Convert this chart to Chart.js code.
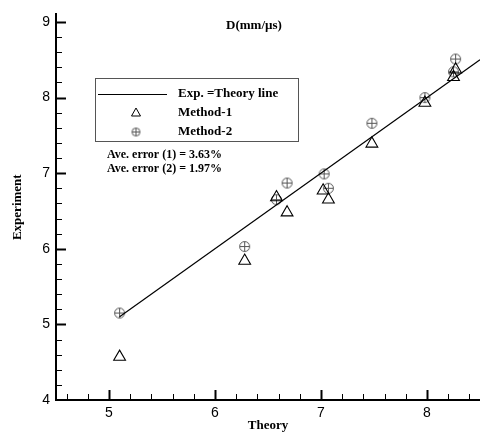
<!DOCTYPE html>
<html>
<head>
<meta charset="utf-8">
<script src="https://cdn.jsdelivr.net/npm/chart.js@4/dist/chart.umd.min.js"></script>
<style>
  html, body { margin: 0; padding: 0; background: #fff; }
  #wrap { position: relative; width: 480px; height: 433px; }
</style>
</head>
<body>
<div id="wrap"><canvas id="chart-scatter"></canvas></div>
<script>
/* data */
var theory1 = [5.1, 6.28, 6.58, 6.68, 7.02, 7.07, 7.48, 7.98, 8.25, 8.27];
var exp1    = [4.57, 5.84, 6.68, 6.48, 6.77, 6.65, 7.39, 7.93, 8.27, 8.37];
var theory2 = [5.1, 6.28, 6.58, 6.68, 7.03, 7.07, 7.48, 7.98, 8.25, 8.27];
var exp2    = [5.15, 6.03, 6.65, 6.87, 6.99, 6.80, 7.66, 8.00, 8.34, 8.51];
var lineEnds = [5.1, 8.5];
var xMajor = [5, 6, 7, 8];
var yMajor = [4, 5, 6, 7, 8, 9];
var minorStep = 0.2;
var labels = ['Exp. =Theory line', 'Method-1', 'Method-2'];
var errorNotes = ['Ave. error (1) = 3.63%', 'Ave. error (2) = 1.97%'];
var chartTitle = 'D(mm/\u00b5s)';

function pts(xs, ys) {
    return xs.map(function (x, i) { return { x: x, y: ys[i] }; });
}

function isMajor(v, majors) {
    return majors.some(function (m) { return Math.abs(m - v) < 1e-6; });
}

/* major ticks plus minor ones every 0.2 inside the axis range */
function buildTicks(scale) {
    var list = [];
    var start = Math.ceil(scale.min / minorStep - 1e-6);
    var end = Math.floor(scale.max / minorStep + 1e-6);
    for (var i = start; i <= end; i++) {
        list.push({ value: Math.round(i * minorStep * 100) / 100 });
    }
    scale.ticks = list;
}

/* circle with a plus inside, like the original plot symbol */
function makeCirclePlus(r, color) {
    var c = document.createElement('canvas');
    var s = Math.ceil(r * 2 + 3);
    c.width = s; c.height = s;
    var g = c.getContext('2d');
    var m = s / 2;
    g.strokeStyle = color;
    g.lineWidth = 1;
    g.beginPath(); g.arc(m, m, r, 0, Math.PI * 2); g.stroke();
    g.beginPath();
    g.moveTo(m - r, m); g.lineTo(m + r, m);
    g.moveTo(m, m - r); g.lineTo(m, m + r);
    g.stroke();
    return c;
}
var circlePlus = makeCirclePlus(5, '#555');
var circlePlusSmall = makeCirclePlus(4, '#555');

var serifBold = '"Liberation Serif", "Times New Roman", serif';
var sans = '"Liberation Sans", Arial, sans-serif';

/* ticks pointing inward, long at whole numbers */
var innerTicks = {
    id: 'innerTicks',
    afterDraw: function (chart) {
        var ctx = chart.ctx, a = chart.chartArea;
        ctx.save();
        ctx.strokeStyle = '#000';
        chart.scales.x.ticks.forEach(function (t) {
            var major = isMajor(t.value, xMajor);
            var px = Math.round(chart.scales.x.getPixelForValue(t.value)) + 0.5;
            if (px <= a.left + 2) return;
            ctx.lineWidth = major ? 2 : 1;
            ctx.beginPath();
            ctx.moveTo(px, a.bottom);
            ctx.lineTo(px, a.bottom - (major ? 10 : 6));
            ctx.stroke();
        });
        chart.scales.y.ticks.forEach(function (t) {
            var major = isMajor(t.value, yMajor);
            var py = Math.round(chart.scales.y.getPixelForValue(t.value)) + 0.5;
            if (py >= a.bottom - 2) return;
            ctx.lineWidth = major ? 2 : 1;
            ctx.beginPath();
            ctx.moveTo(a.left, py);
            ctx.lineTo(a.left + (major ? 10 : 6), py);
            ctx.stroke();
        });
        ctx.restore();
    }
};

/* boxed legend, error notes and the inner title */
var notes = {
    id: 'notes',
    afterDraw: function (chart) {
        var ctx = chart.ctx;
        ctx.save();
        ctx.fillStyle = '#000';
        ctx.textBaseline = 'middle';

        ctx.font = 'bold 13px ' + serifBold;
        ctx.textAlign = 'center';
        ctx.fillText(chartTitle, 254, 26);

        ctx.strokeStyle = '#555';
        ctx.lineWidth = 1;
        ctx.strokeRect(95.5, 78.5, 203, 63);

        ctx.strokeStyle = '#000';
        ctx.beginPath();
        ctx.moveTo(98, 94.5); ctx.lineTo(167, 94.5);
        ctx.stroke();

        /* small triangle */
        ctx.beginPath();
        ctx.moveTo(136, 108); ctx.lineTo(140.5, 116); ctx.lineTo(131.5, 116);
        ctx.closePath();
        ctx.stroke();
        ctx.drawImage(circlePlusSmall, 136 - circlePlusSmall.width / 2, 132 - circlePlusSmall.height / 2);

        ctx.textAlign = 'left';
        ctx.font = 'bold 13px ' + serifBold;
        ctx.fillText(labels[0], 178, 94);
        ctx.fillText(labels[1], 178, 113);
        ctx.fillText(labels[2], 178, 132);

        ctx.font = 'bold 12px ' + serifBold;
        ctx.fillText(errorNotes[0], 107, 155);
        ctx.fillText(errorNotes[1], 107, 169);
        ctx.restore();
    }
};

var ctx = document.getElementById('chart-scatter').getContext('2d');
var scatterChart = new Chart(ctx, {
    type: 'scatter',
    data: {
        datasets: [{
            label: labels[0],
            type: 'line',
            data: pts(lineEnds, lineEnds),
            borderColor: '#000',
            borderWidth: 1.2,
            pointRadius: 0,
            fill: false
        }, {
            label: labels[1],
            data: pts(theory1, exp1),
            pointStyle: 'triangle',
            pointRadius: 6.8,
            pointBorderColor: '#000',
            pointBackgroundColor: 'rgba(0,0,0,0)',
            pointBorderWidth: 1.1
        }, {
            label: labels[2],
            data: pts(theory2, exp2),
            pointStyle: circlePlus
        }]
    },
    options: {
        responsive: true,
        maintainAspectRatio: false,
        animation: false,
        layout: { autoPadding: false, padding: { top: 13, right: 0, left: 0, bottom: 0 } },
        plugins: {
            legend: { display: false },
            tooltip: { enabled: false }
        },
        scales: {
            x: {
                type: 'linear',
                min: 4.5,
                max: 8.5,
                afterBuildTicks: buildTicks,
                grid: { display: false, drawTicks: false },
                border: { display: true, color: '#000', width: 2 },
                ticks: {
                    autoSkip: false,
                    maxRotation: 0,
                    padding: 5,
                    color: '#000',
                    font: { family: sans, size: 14 },
                    callback: function (v) {
                        return isMajor(v, xMajor) ? String(Math.round(v)) : '';
                    }
                },
                title: {
                    display: true,
                    text: 'Theory',
                    color: '#000',
                    font: { family: serifBold, size: 13, weight: 'bold' },
                    padding: { top: 0, bottom: 0 }
                },
                afterFit: function (s) { s.height = 33; }
            },
            y: {
                type: 'linear',
                min: 4,
                max: 9.1,
                afterBuildTicks: buildTicks,
                grid: { display: false, drawTicks: false },
                border: { display: true, color: '#000', width: 2 },
                ticks: {
                    autoSkip: false,
                    padding: 6,
                    color: '#000',
                    font: { family: sans, size: 14 },
                    callback: function (v) {
                        return isMajor(v, yMajor) ? String(Math.round(v)) : '';
                    }
                },
                title: {
                    display: true,
                    text: 'Experiment',
                    color: '#000',
                    font: { family: serifBold, size: 13, weight: 'bold' },
                    padding: { top: 10, bottom: 0 }
                },
                afterFit: function (s) { s.width = 56; }
            }
        }
    },
    plugins: [innerTicks, notes]
});
</script>
</body>
</html>
